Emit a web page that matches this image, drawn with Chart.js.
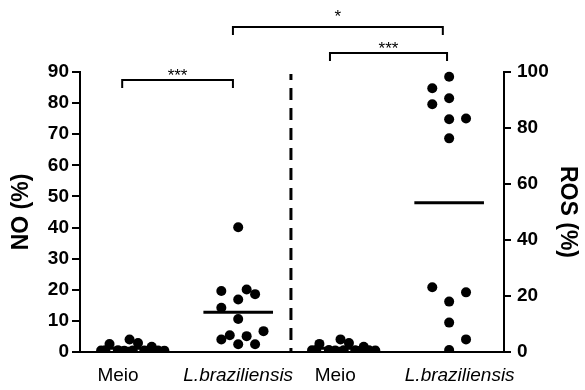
<!DOCTYPE html>
<html>
<head>
<meta charset="utf-8">
<script src="https://cdn.jsdelivr.net/npm/chart.js@4.4.1/dist/chart.umd.min.js"></script>
<style>
html, body { margin: 0; padding: 0; background: #fff; }
</style>
</head>
<body>
<canvas id="chart" width="585" height="390"></canvas>
<script>
const FONT = '"Liberation Sans", Arial, sans-serif';

// groups along the x axis
const groupNames = ['Meio', 'L.braziliensis', 'Meio', 'L.braziliensis'];
const groupX = [1, 2, 3, 4];
const labelX = [0.86, 2.0, 2.92, 4.1];

// NO (%) - left axis
const noMeio = [2.6, 4.0, 2.9, 1.7, 0.5, 0.6, 0.4, 0.5, 0.5, 0.4, 0.6, 0.5, 0.4];
const noMeioJitter = [-0.22, -0.03, 0.05, 0.18, -0.30, -0.14, -0.08, 0.11, 0.24, 0.30, -0.26, 0.0, 0.14];
const noLbraz = [40.1, 19.6, 20.1, 18.6, 16.9, 14.2, 10.6, 6.7, 5.4, 4.0, 5.1, 2.5, 2.5];
const noLbrazJitter = [0, -0.16, 0.08, 0.16, 0, -0.16, 0, 0.24, -0.08, -0.16, 0.08, 0, 0.16];

// ROS (%) - right axis
const rosMeio = [2.9, 4.5, 3.2, 1.9, 0.6, 0.7, 0.5, 0.6, 0.6, 0.5, 0.7, 0.6, 0.4];
const rosMeioJitter = [-0.23, -0.03, 0.05, 0.19, -0.30, -0.14, -0.08, 0.11, 0.24, 0.30, -0.26, 0.0, 0.14];
const rosLbraz = [98.3, 94.2, 90.6, 88.5, 83.1, 83.4, 76.3, 23.1, 21.3, 18.0, 10.5, 4.5, 0.7];
const rosLbrazJitter = [0, -0.16, 0, -0.16, 0, 0.16, 0, -0.16, 0.16, 0, 0, 0.16, 0];

// significance brackets (x in group units, level in NO units)
const bracketFrom = [0.9, 2.87, 1.95];
const bracketTo = [1.95, 3.98, 3.94];
const bracketLevel = [87.4, 96.1, 104.5];
const bracketText = ['***', '***', '*'];
const bracketTextLift = [1, 1, -5];

const divideAt = 2.5;

function points(vals, jitter, g) {
    return vals.map((v, i) => ({ x: groupX[g] + jitter[i], y: v }));
}
function mean(vals) {
    return vals.reduce((a, b) => a + b, 0) / vals.length;
}
function meanLine(vals, g, axis) {
    const m = mean(vals);
    return {
        type: 'line',
        data: [{ x: groupX[g] - 0.33, y: m }, { x: groupX[g] + 0.33, y: m }],
        yAxisID: axis,
        borderColor: '#000',
        borderWidth: 3,
        pointRadius: 0,
        showLine: true
    };
}
function dots(vals, jitter, g, axis) {
    return {
        data: points(vals, jitter, g),
        yAxisID: axis,
        backgroundColor: '#000',
        borderWidth: 0,
        pointRadius: 5,
        clip: { left: 10, top: 10, right: 10, bottom: 0 }
    };
}

const extras = {
    id: 'extras',
    afterDatasetsDraw(chart) {
        const ctx = chart.ctx;
        const xs = chart.scales.x;
        const ys = chart.scales.y;
        const area = chart.chartArea;
        ctx.save();
        ctx.strokeStyle = '#000';
        // dashed divider
        const dx = xs.getPixelForValue(divideAt);
        ctx.lineWidth = 3;
        ctx.setLineDash([12, 8]);
        ctx.lineDashOffset = 8;
        ctx.beginPath();
        ctx.moveTo(dx, area.bottom);
        ctx.lineTo(dx, area.top + 2);
        ctx.stroke();
        ctx.setLineDash([]);
        // brackets
        ctx.lineWidth = 2;
        ctx.fillStyle = '#000';
        ctx.font = '17px ' + FONT;
        ctx.textAlign = 'center';
        ctx.textBaseline = 'alphabetic';
        for (let i = 0; i < bracketFrom.length; i++) {
            const x1 = xs.getPixelForValue(bracketFrom[i]);
            const x2 = xs.getPixelForValue(bracketTo[i]);
            const y = ys.getPixelForValue(bracketLevel[i]);
            ctx.beginPath();
            ctx.moveTo(x1, y + 8);
            ctx.lineTo(x1, y);
            ctx.lineTo(x2, y);
            ctx.lineTo(x2, y + 8);
            ctx.stroke();
            ctx.fillText(bracketText[i], (x1 + x2) / 2, y + bracketTextLift[i]);
        }
        ctx.restore();
    }
};

new Chart(document.getElementById('chart'), {
    type: 'scatter',
    data: {
        datasets: [
            dots(noMeio, noMeioJitter, 0, 'y'),
            dots(noLbraz, noLbrazJitter, 1, 'y'),
            dots(rosMeio, rosMeioJitter, 2, 'y2'),
            dots(rosLbraz, rosLbrazJitter, 3, 'y2'),
            meanLine(noMeio, 0, 'y'),
            meanLine(noLbraz, 1, 'y'),
            meanLine(rosMeio, 2, 'y2'),
            meanLine(rosLbraz, 3, 'y2')
        ]
    },
    options: {
        responsive: false,
        animation: false,
        events: [],
        layout: { padding: { top: 72, left: 0, right: 0, bottom: 0 } },
        plugins: { legend: { display: false }, tooltip: { enabled: false } },
        scales: {
            x: {
                type: 'linear',
                min: 0.5,
                max: 4.52,
                afterFit: s => { s.height = 38; },
                afterBuildTicks: s => { s.ticks = labelX.map(v => ({ value: v })); },
                grid: { display: false, drawTicks: false },
                border: { display: true, color: '#000', width: 2 },
                ticks: {
                    autoSkip: false,
                    maxRotation: 0,
                    padding: 12,
                    color: '#000',
                    font: c => ({ family: FONT, size: 19, style: c.index % 2 ? 'italic' : 'normal' }),
                    callback: (v, i) => groupNames[i]
                }
            },
            y: {
                position: 'left',
                min: 0,
                max: 90,
                afterFit: s => { s.width = 80; },
                grid: { drawOnChartArea: false, color: '#000', lineWidth: 2, tickLength: 8 },
                border: { display: true, color: '#000', width: 2 },
                ticks: { stepSize: 10, padding: 3, color: '#000', font: { family: FONT, size: 19, weight: 'bold' } },
                title: { display: true, text: 'NO (%)', color: '#000', padding: { top: 8, bottom: 0 }, font: { family: FONT, size: 23, weight: 'bold' } }
            },
            y2: {
                position: 'right',
                min: 0,
                max: 100,
                afterFit: s => { s.width = 81; },
                grid: { drawOnChartArea: false, color: '#000', lineWidth: 2, tickLength: 7 },
                border: { display: true, color: '#000', width: 2 },
                ticks: { stepSize: 20, padding: 6, color: '#000', font: { family: FONT, size: 19, weight: 'bold' } },
                title: { display: true, text: 'ROS (%)', color: '#000', padding: { top: 4, bottom: 0 }, font: { family: FONT, size: 23, weight: 'bold' } }
            }
        }
    },
    plugins: [extras]
});
</script>
</body>
</html>
